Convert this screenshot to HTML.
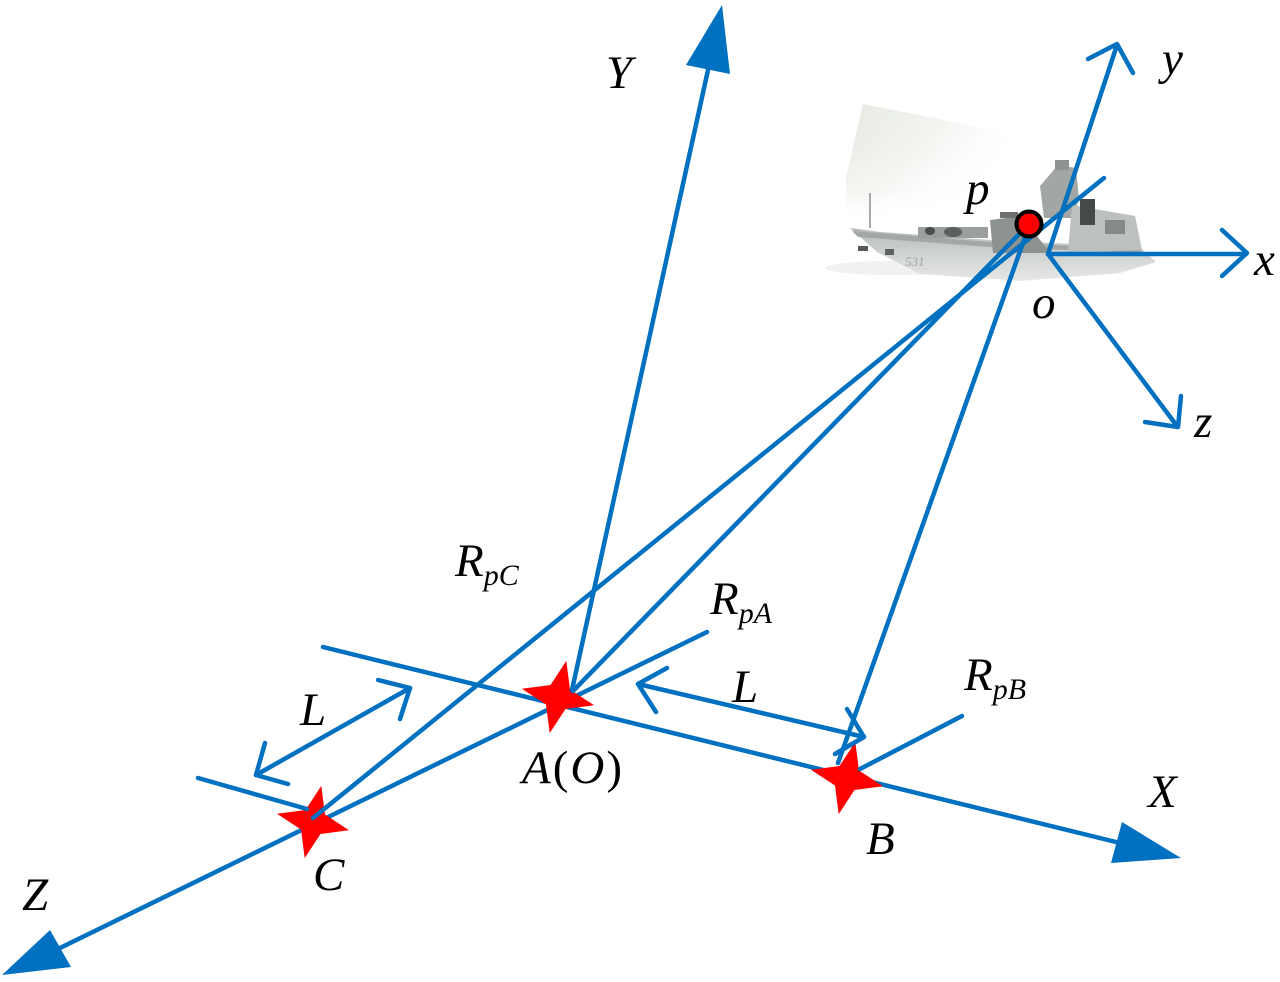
<!DOCTYPE html>
<html>
<head>
<meta charset="utf-8">
<style>
html,body{margin:0;padding:0;background:#fff;}
svg{display:block;}
text{font-family:"Liberation Serif",serif;font-style:italic;fill:#000;}
</style>
</head>
<body>
<svg width="1280" height="982" viewBox="0 0 1280 982" xmlns="http://www.w3.org/2000/svg">
<defs>
  <linearGradient id="bg" x1="0" y1="0" x2="1" y2="0.6">
    <stop offset="0" stop-color="#e6eae2" stop-opacity="1"/>
    <stop offset="0.5" stop-color="#eef1eb" stop-opacity="0.8"/>
    <stop offset="1" stop-color="#ffffff" stop-opacity="0"/>
  </linearGradient>
  <linearGradient id="bgv" x1="0" y1="0" x2="0" y2="1">
    <stop offset="0" stop-color="#ffffff" stop-opacity="0"/>
    <stop offset="0.6" stop-color="#ffffff" stop-opacity="0.3"/>
    <stop offset="1" stop-color="#ffffff" stop-opacity="1"/>
  </linearGradient>
  <linearGradient id="hull" x1="0" y1="0" x2="0" y2="1">
    <stop offset="0" stop-color="#b3b8b6"/>
    <stop offset="0.45" stop-color="#cdd1cf"/>
    <stop offset="1" stop-color="#e6e8e7"/>
  </linearGradient>
</defs>
<rect width="1280" height="982" fill="#fff"/>

<!-- ship -->
<g>
  <polygon points="863,104 1005,132 1005,215 846,215 846,178" fill="url(#bg)"/>
  <polygon points="846,150 1005,150 1005,215 846,215" fill="url(#bgv)"/>
  <ellipse cx="895" cy="268" rx="70" ry="7" fill="#f0f1f0"/>
  <path d="M850,228 L880,232 L990,240 L1140,247 L1156,262 L1120,273 L1020,281 L920,274 L877,252 Z" fill="url(#hull)"/>
  <path d="M852,231 L990,242 L1140,249 L1142,253 L990,247 L858,237 Z" fill="#a3a8a6"/>
  <line x1="870" y1="193" x2="870" y2="228" stroke="#8a8f8d" stroke-width="1.5"/>
  <rect x="918" y="227" width="70" height="11" fill="#9a9f9d"/>
  <ellipse cx="953" cy="232" rx="9" ry="5" fill="#5a5f5d"/>
  <ellipse cx="930" cy="231" rx="5" ry="4" fill="#4a4f4d"/>
  <rect x="858" y="246" width="10" height="5" fill="#555a58"/>
  <rect x="885" y="249" width="9" height="6" fill="#5e6361"/>
  <polygon points="990,220 1022,216 1050,253 993,253" fill="#8c9290"/>
  <polygon points="1040,186 1058,165 1076,168 1079,200 1072,218 1044,218" fill="#a2a7a5"/>
  <rect x="1055" y="160" width="14" height="10" fill="#8f9492"/>
  <polygon points="1072,205 1135,216 1142,250 1068,252" fill="#bcc0be"/>
  <rect x="1080" y="199" width="15" height="26" fill="#454a48"/>
  <rect x="1105" y="220" width="20" height="14" fill="#858a88"/>
  <rect x="1000" y="212" width="18" height="6" fill="#6d7270"/>
  <text x="905" y="266" style="font-size:13px;fill:#9ea3a1;font-style:italic;">531</text>
</g>

<!-- axes under stars -->
<g stroke="#0070c0" stroke-width="4.5" stroke-linecap="round" fill="none">
  <line x1="323" y1="647" x2="1116" y2="842"/>
  <line x1="707" y1="632" x2="60" y2="948"/>
</g>
<g fill="#0070c0">
  <polygon points="1181,858 1122,822 1111,863"/>
  <polygon points="2,975 50,930 71,967"/>
  <polygon points="722,5 686,65 730,74"/>
</g>

<!-- stars -->
<g fill="#ff0000">
  <path transform="translate(558,697)" d="M8.3,-36.1 L12,-7.5 L36.1,8.3 L7.5,12 L-8.3,36.1 L-12,7.5 L-36.1,-8.3 L-7.5,-12 Z"/>
  <path transform="translate(847,778)" d="M8.3,-36.1 L12,-7.5 L36.1,8.3 L7.5,12 L-8.3,36.1 L-12,7.5 L-36.1,-8.3 L-7.5,-12 Z"/>
  <path transform="translate(313,822)" d="M8.3,-36.1 L12,-7.5 L36.1,8.3 L7.5,12 L-8.3,36.1 L-12,7.5 L-36.1,-8.3 L-7.5,-12 Z"/>
</g>

<!-- lines over stars -->
<g stroke="#0070c0" stroke-width="4.5" stroke-linecap="round" stroke-linejoin="round" fill="none">
  <line x1="572" y1="690" x2="708" y2="70"/>
  <line x1="573" y1="691" x2="1029" y2="224"/>
  <line x1="313" y1="818" x2="1104" y2="178"/>
  <line x1="1029" y1="226" x2="838" y2="763"/>
  <line x1="198" y1="778" x2="307" y2="809"/>
  <line x1="860" y1="769" x2="962" y2="716"/>
  <line x1="256" y1="775" x2="410" y2="688"/>
  <polyline points="265,743 256,775 288,784"/>
  <polyline points="378,680 410,688 400,719"/>
  <line x1="638" y1="684" x2="864" y2="737"/>
  <polyline points="667,668 638,684 656,712"/>
  <polyline points="847,709 864,737 835,754"/>
  <line x1="1048" y1="254" x2="1246" y2="254"/>
  <polyline points="1222,230 1247,253 1222,276"/>
  <line x1="1048" y1="254" x2="1117" y2="45"/>
  <polyline points="1088,59 1117,44 1133,73"/>
  <line x1="1048" y1="254" x2="1177" y2="426"/>
  <polyline points="1145,422 1178,427 1181,396"/>
</g>

<!-- p point -->
<circle cx="1029" cy="224" r="12.5" fill="#ff0000" stroke="#000" stroke-width="4"/>

<!-- labels -->
<g style="font-size:47px;">
  <text x="606" y="88">Y</text>
  <text x="1162" y="74">y</text>
  <text x="1254" y="275">x</text>
  <text x="1194" y="437">z</text>
  <text x="966" y="204">p</text>
  <text x="1032" y="318">o</text>
  <text x="22" y="910">Z</text>
  <text x="1148" y="807">X</text>
  <text x="866" y="854">B</text>
  <text x="313" y="890">C</text>
  <text x="522" y="783" style="letter-spacing:2px;">A<tspan style="font-style:normal">(</tspan>O<tspan style="font-style:normal">)</tspan></text>
  <text x="300" y="725">L</text>
  <text x="732" y="702">L</text>
  <text x="455" y="576">R<tspan dy="9" style="font-size:30px;">pC</tspan></text>
  <text x="710" y="614">R<tspan dy="9" style="font-size:30px;">pA</tspan></text>
  <text x="964" y="690">R<tspan dy="9" style="font-size:30px;">pB</tspan></text>
</g>
</svg>
</body>
</html>
